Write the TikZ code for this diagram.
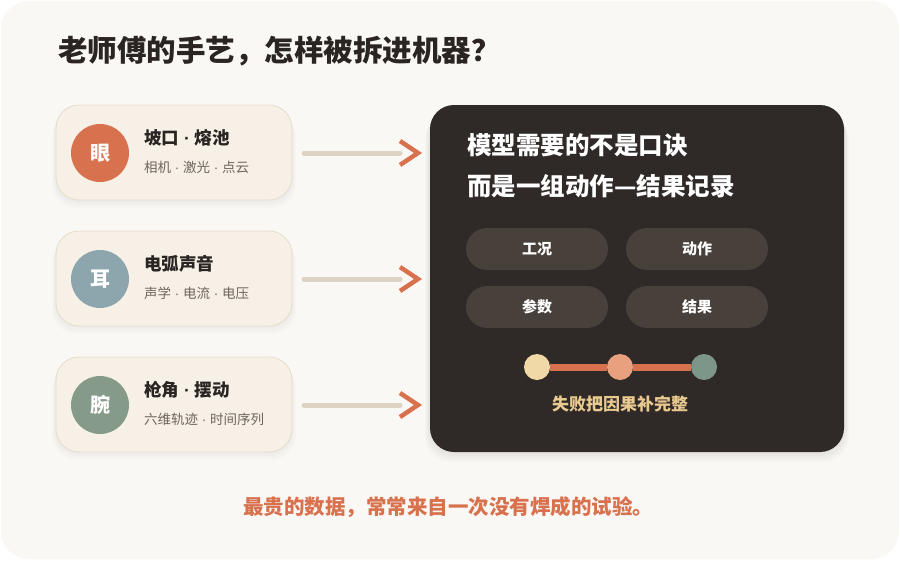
\documentclass[tikz,border=0pt]{standalone}
\usepackage{fontspec}
\setmainfont{Noto Sans CJK SC}
\newfontfamily\latinf{Liberation Sans}
\newcommand{\mdot}{{\latinf\ ·\ }}
\definecolor{pagec}{HTML}{FFFFFF}
\definecolor{bgc}{HTML}{FAF8F5}
\definecolor{ink}{HTML}{2A2522}
\definecolor{subink}{HTML}{6E655D}
\definecolor{cardfill}{HTML}{F6F0E6}
\definecolor{cardline}{HTML}{E6DCCC}
\definecolor{rust}{HTML}{D8714D}
\definecolor{slate}{HTML}{8DA6AE}
\definecolor{sage}{HTML}{869A8A}
\definecolor{shaft}{HTML}{DDD3C4}
\definecolor{panel}{HTML}{2F2927}
\definecolor{pill}{HTML}{47403B}
\definecolor{cream}{HTML}{F0D9A6}
\definecolor{salmon}{HTML}{E8A07F}
\definecolor{sage2}{HTML}{7D968A}
\definecolor{gold}{HTML}{E8C98F}
\begin{document}
\begin{tikzpicture}[x=1pt,y=-1pt,
  card/.style={draw=cardline,line width=0.8pt,fill=cardfill,rounded corners=23pt,minimum width=236pt,minimum height=95pt,inner sep=0pt},
  badge/.style={circle,minimum size=58pt,inner sep=0pt,text=white,font=\fontsize{20}{22}\selectfont\bfseries},
  ctitle/.style={anchor=west,text=ink,font=\fontsize{17.5}{20}\selectfont\bfseries,inner sep=0pt},
  csub/.style={anchor=west,text=subink,font=\fontsize{13.5}{16}\selectfont,inner sep=0pt},
  shaftline/.style={draw=shaft,line width=5pt,line cap=round},
  chevron/.style={draw=rust,line width=4.5pt,line cap=butt,line join=miter},
  pillbox/.style={fill=pill,rounded corners=21pt,minimum width=142pt,minimum height=42pt,inner sep=0pt,text=white,font=\fontsize{15}{17}\selectfont\bfseries},
  head/.style={anchor=west,text=white,font=\fontsize{24.5}{28}\selectfont\bfseries,inner sep=0pt},
  dot/.style={circle,minimum size=26pt,inner sep=0pt}]
\useasboundingbox (0,0) rectangle (900,560);
\fill[pagec] (0,0) rectangle (900,560);
\fill[bgc,rounded corners=28pt] (1,1) rectangle (899,559);
% title
\node[anchor=west,text=ink,font=\fontsize{29.5}{33}\selectfont\bfseries,inner sep=0pt] (title) at (58,51) {老师傅的手艺，怎样被拆进机器？};
% card shadows
\foreach \y in {105,231,357}{
  \foreach \d in {2,4,6,8}{
    \fill[black,opacity=0.012,rounded corners=24pt] (56-\d/2,\y+\d) rectangle (292+\d/2,\y+95+\d);
  }
}
% cards
\node[card] (c1) at (174,152.5) {};
\node[card] (c2) at (174,278.5) {};
\node[card] (c3) at (174,404.5) {};
\node[badge,fill=rust] (b1) at (100,153) {眼};
\node[badge,fill=slate] (b2) at (100,279) {耳};
\node[badge,fill=sage] (b3) at (100,405) {腕};
\node[ctitle] (t1) at (144,138) {坡口\mdot 熔池};
\node[csub] (s1) at (144,167) {相机\mdot 激光\mdot 点云};
\node[ctitle] (t2) at (144,264) {电弧声音};
\node[csub] (s2) at (144,293) {声学\mdot 电流\mdot 电压};
\node[ctitle] (t3) at (144,390) {枪角\mdot 摆动};
\node[csub] (s3) at (144,419) {六维轨迹\mdot 时间序列};
% panel shadow + panel
\foreach \d in {2,4,6,8,10}{
  \fill[black,opacity=0.015,rounded corners=26pt] (430-\d/2,105+\d) rectangle (844+\d/2,452+\d);
}
\node[fill=panel,rounded corners=24pt,minimum width=414pt,minimum height=347pt,inner sep=0pt] (panel) at (637,278.5) {};
% arrows
\foreach \i/\y in {1/153,2/279,3/405}{
  \coordinate (a\i s) at (304,\y);
  \coordinate (a\i e) at (400,\y);
  \draw[shaftline] (a\i s) -- (a\i e);
  \draw[chevron] ([xshift=0pt,yshift=-12pt]a\i e) -- ([xshift=18pt]a\i e) -- ([xshift=0pt,yshift=12pt]a\i e);
}
% panel text
\node[head] (h1) at (467,145) {模型需要的不是口诀};
\node[head] (h2) at (467,186) {而是一组动作—结果记录};
\node[pillbox] (p1) at (537,249) {工况};
\node[pillbox] (p2) at (697,249) {动作};
\node[pillbox] (p3) at (537,307) {参数};
\node[pillbox] (p4) at (697,307) {结果};
% timeline
\node[dot,fill=cream] (d1) at (537,367) {};
\node[dot,fill=salmon] (d2) at (620,367) {};
\node[dot,fill=sage2] (d3) at (704,367) {};
\draw[rust,line width=7pt] (d1.east) -- (d2.west);
\draw[rust,line width=7pt] (d2.east) -- (d3.west);
\node[text=gold,font=\fontsize{17}{20}\selectfont\bfseries,inner sep=0pt] (cap) at (620,404) {失败把因果补完整};
% footer
\node[text=rust,font=\fontsize{20.5}{24}\selectfont\bfseries,inner sep=0pt] (foot) at (448,507) {最贵的数据，常常来自一次没有焊成的试验。};
\end{tikzpicture}
\end{document}
